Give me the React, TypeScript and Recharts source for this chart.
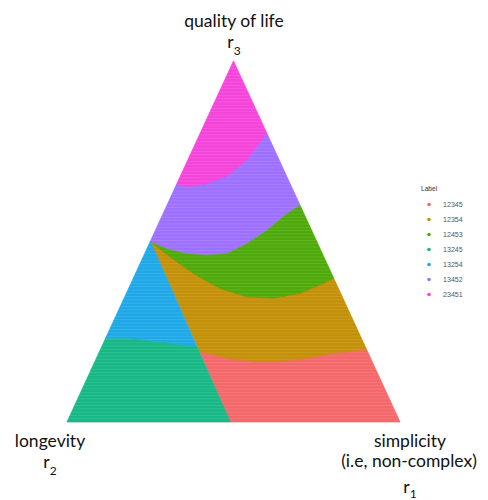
import { ScatterChart, Scatter, XAxis, YAxis, Legend } from 'recharts';

const labels = ['12345', '12354', '12453', '13245', '13254', '13452', '23451'];
const colors = ['#F4686A', '#C49008', '#4EAA0A', '#17B885', '#1FA8E8', '#9E70FF', '#F544DA'];

// boundaries between regions, as ternary shares [r1 simplicity, r2 longevity, r3 quality of life]
const apex = [0, 0, 1];
const cornerR2 = [0, 1, 0];
const cornerR1 = [1, 0, 0];
const junction = [0, 0.5, 0.5];
const splitBottom = [0.49, 0.51, 0];

// magenta / purple, right edge -> left edge
const edge23451 = [[0.2, 0, 0.8], [0.177, 0.097, 0.726], [0.14, 0.18, 0.68], [0.081, 0.262, 0.657], [0.033, 0.315, 0.652], [0, 0.343, 0.657]];
// purple / green, right edge -> junction
const edge13452 = [[0.399, 0, 0.601], [0.371, 0.051, 0.578], [0.334, 0.134, 0.532], [0.2925, 0.2125, 0.495], [0.246, 0.287, 0.467], [0.188, 0.349, 0.463], [0.125, 0.408, 0.467], [0.058, 0.461, 0.481], junction];
// green / olive, junction -> right edge
const edge12453 = [junction, [0.08, 0.462, 0.458], [0.173, 0.415, 0.412], [0.274, 0.356, 0.37], [0.366, 0.287, 0.347], [0.449, 0.208, 0.343], [0.522, 0.121, 0.357], [0.57, 0.05, 0.38], [0.602, 0, 0.398]];
// olive / red, split line -> right edge
const edge12354 = [[0.3, 0.505, 0.195], [0.392, 0.432, 0.176], [0.476, 0.357, 0.167], [0.556, 0.277, 0.167], [0.632, 0.192, 0.176], [0.705, 0.105, 0.19], [0.8, 0, 0.2]];
// blue / teal, left edge -> split line
const edge13254 = [[0, 0.768, 0.232], [0.063, 0.705, 0.232], [0.168, 0.61, 0.222], [0.286, 0.506, 0.208]];

const rev = (a: number[][]) => [...a].reverse();

const regions: number[][][] = [
  [...edge12354, cornerR1, splitBottom],
  [...edge12453, ...rev(edge12354)],
  [...edge13452, ...edge12453.slice(1)],
  [...edge13254, splitBottom, cornerR2],
  [junction, ...rev(edge13254)],
  [...edge23451, ...rev(edge13452)],
  [apex, ...edge23451],
];

const toXY = (t: number[]) => ({ x: t[0] + t[2] / 2, y: t[2] });

const polygonLine = (i: number) => (p: any) => (
  <polygon
    points={p.points.map((pt: any) => `${pt.x},${pt.y}`).join(' ')}
    fill={`url(#dots${i})`}
    stroke={colors[i]}
    strokeWidth={0.8}
    strokeLinejoin="round"
  />
);

const LegendBox = () => (
  <div style={{ fontFamily: '"Liberation Sans", Arial, sans-serif', color: '#555' }}>
    <div style={{ height: 17, lineHeight: '17px', fontSize: 6.6, paddingLeft: 11, color: '#333' }}>Label</div>
    {labels.map((l, i) => (
      <div key={l} style={{ display: 'flex', alignItems: 'center', height: 15, fontSize: 7.1 }}>
        <svg width={33} height={15}>
          <circle cx={19} cy={7.5} r={1.8} fill={colors[i]} />
        </svg>
        <span>{l}</span>
      </div>
    ))}
  </div>
);

const txt = { fontFamily: 'Lato, sans-serif', fontSize: 17.5, fill: '#111' } as const;

export default function App() {
  return (
    <div style={{ position: 'absolute', left: 0, top: 0, width: 488, height: 500, background: '#fff' }}>
      <ScatterChart width={488} height={500} margin={{ top: 61, right: 88, bottom: 78, left: 67 }}>
        <defs>
          {colors.map((c, i) => (
            <pattern key={c} id={`dots${i}`} width={3.3} height={3.3} patternUnits="userSpaceOnUse">
              <rect width={3.3} height={3.3} fill={c} />
              <rect y={2.6} width={3.3} height={0.7} fill="#fff" opacity={0.14} />
            </pattern>
          ))}
        </defs>
        <XAxis type="number" dataKey="x" domain={[0, 1]} hide />
        <YAxis type="number" dataKey="y" domain={[0, 1]} hide />
        {regions.map((r, i) => (
          <Scatter
            key={labels[i]}
            name={labels[i]}
            data={r.map(toXY)}
            fill={colors[i]}
            line={polygonLine(i)}
            lineType="joint"
            shape={() => <g />}
            isAnimationActive={false}
          />
        ))}
        <Legend
          layout="vertical"
          align="center"
          verticalAlign="middle"
          wrapperStyle={{ left: 410, top: 180, width: 70 }}
          content={() => <LegendBox />}
        />
      </ScatterChart>
      <svg width={488} height={500} style={{ position: 'absolute', left: 0, top: 0, pointerEvents: 'none' }}>
        <text x={234} y={27} textAnchor="middle" {...txt}>quality of life</text>
        <text x={234} y={48} textAnchor="middle" {...txt}>r<tspan dy={7} fontSize={12}>3</tspan></text>
        <text x={50} y={447} textAnchor="middle" {...txt}>longevity</text>
        <text x={50} y={468} textAnchor="middle" {...txt}>r<tspan dy={7} fontSize={12}>2</tspan></text>
        <text x={410} y={447} textAnchor="middle" {...txt}>simplicity</text>
        <text x={409} y={467} textAnchor="middle" {...txt}>(i.e, non-complex)</text>
        <text x={410} y={493} textAnchor="middle" {...txt}>r<tspan dy={5} fontSize={12}>1</tspan></text>
      </svg>
    </div>
  );
}
